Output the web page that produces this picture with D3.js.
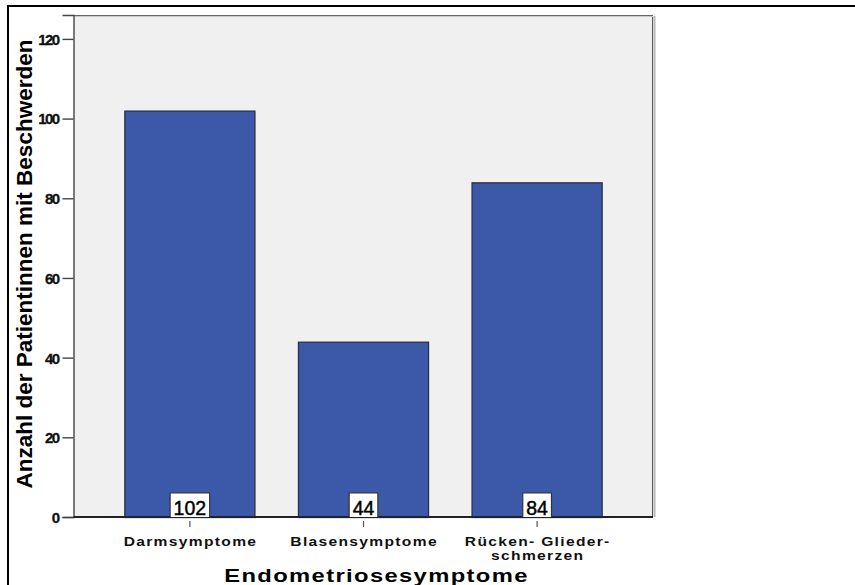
<!DOCTYPE html>
<html>
<head>
<meta charset="utf-8">
<script src="https://cdn.jsdelivr.net/npm/d3@7"></script>
<style>
  html, body { margin: 0; padding: 0; background: #ffffff; }
  svg { display: block; font-family: "Liberation Sans", Arial, sans-serif; }
</style>
</head>
<body>
<svg id="chart" width="855" height="585"></svg>
<script>
// Symptom categories and patient counts
const categories = ["Darmsymptome", "Blasensymptome", "Rücken- Glieder-\nschmerzen"];
const counts = [102, 44, 84];
const yTicks = [0, 20, 40, 60, 80, 100, 120];
const yTitle = "Anzahl der Patientinnen mit Beschwerden";
const xTitle = "Endometriosesymptome";

const svg = d3.select("#chart");
const FONT = "'Liberation Sans', Arial, sans-serif";

// outer frame
svg.append("line").attr("x1", 7).attr("x2", 855).attr("y1", 6).attr("y2", 6)
  .attr("stroke", "#000").attr("stroke-width", 2);
svg.append("line").attr("x1", 8).attr("x2", 8).attr("y1", 5).attr("y2", 585)
  .attr("stroke", "#000").attr("stroke-width", 2);

const plot = { left: 74, right: 653, top: 15, bottom: 517 };

const x = d3.scaleBand()
  .domain(categories)
  .range([plot.left, plot.right])
  .paddingInner(0.245)
  .paddingOuter(0.29);

const y = d3.scaleLinear()
  .domain([0, 126])
  .range([plot.bottom, plot.top]);

// plot background
svg.append("rect")
  .attr("x", plot.left).attr("y", plot.top)
  .attr("width", plot.right - plot.left).attr("height", plot.bottom - plot.top)
  .attr("fill", "#f0f0f0");
// frame shading on the right
svg.append("line").attr("x1", plot.right + 1.5).attr("x2", plot.right + 1.5)
  .attr("y1", plot.top + 1).attr("y2", plot.bottom)
  .attr("stroke", "#b8b8b8").attr("stroke-width", 2);
svg.append("line").attr("x1", plot.right - 0.5).attr("x2", plot.right - 0.5)
  .attr("y1", plot.top).attr("y2", plot.bottom)
  .attr("stroke", "#555").attr("stroke-width", 1);
svg.append("line").attr("x1", plot.left).attr("x2", plot.right)
  .attr("y1", plot.top + 0.5).attr("y2", plot.top + 0.5)
  .attr("stroke", "#666").attr("stroke-width", 1);
svg.append("line").attr("x1", plot.left - 0.5).attr("x2", plot.right)
  .attr("y1", plot.top + 1.5).attr("y2", plot.top + 1.5)
  .attr("stroke", "#c8c8c8").attr("stroke-width", 1);

// bars
svg.append("g").selectAll("rect")
  .data(categories)
  .join("rect")
  .attr("x", d => x(d) + 0.5)
  .attr("y", (d, i) => y(counts[i]) + 0.5)
  .attr("width", x.bandwidth() - 1)
  .attr("height", (d, i) => y(0) - y(counts[i]))
  .attr("fill", "#3c58a9")
  .attr("stroke", "#2a2f45")
  .attr("stroke-width", 1.3);

// y axis
const yAxis = d3.axisLeft(y).tickValues(yTicks).tickSize(11).tickPadding(4);
const gy = svg.append("g").attr("transform", `translate(${plot.left - 0.5},0)`).call(yAxis);
gy.attr("font-family", FONT).attr("font-size", null);
gy.select(".domain").attr("stroke", "#444").attr("stroke-width", 1.4);
gy.selectAll(".tick line").attr("stroke", "#444").attr("stroke-width", 1.4);
gy.selectAll(".tick text")
  .attr("fill", "#111")
  .attr("stroke", "#111")
  .attr("stroke-width", 0.3)
  .style("font-size", "15px")
  .style("font-weight", "bold")
  .style("letter-spacing", "-1.6px")
  .attr("dy", "0.36em");

// x axis baseline
svg.append("line")
  .attr("x1", plot.left - 0.5).attr("x2", plot.right)
  .attr("y1", y(0)).attr("y2", y(0))
  .attr("stroke", "#222").attr("stroke-width", 2);

// x ticks and labels (wide bold lettering)
const gx = svg.append("g");
const sx = 1.2;
categories.forEach((c, i) => {
  const cx = x(c) + x.bandwidth() / 2;
  gx.append("line")
    .attr("x1", cx).attr("x2", cx)
    .attr("y1", y(0) + 4).attr("y2", y(0) + 10)
    .attr("stroke", "#555").attr("stroke-width", 1.2);
  const lines = c.split("\n");
  const t = gx.append("text")
    .attr("transform", `translate(${cx + 0.6},0) scale(${sx},1)`)
    .attr("text-anchor", "middle")
    .attr("font-size", 13)
    .attr("font-weight", "bold")
    .attr("fill", "#111")
    .style("letter-spacing", "1.1px");
  lines.forEach((ln, j) => {
    t.append("tspan")
      .attr("x", 0)
      .attr("y", y(0) + 29 + j * 14.5)
      .text(ln);
  });
});

// value labels in boxes at the base of each bar
const labels = svg.append("g");
categories.forEach((c, i) => {
  const cx = x(c) + x.bandwidth() / 2;
  const g = labels.append("g");
  const t = g.append("text")
    .attr("x", cx)
    .attr("y", y(0) - 2)
    .attr("text-anchor", "middle")
    .attr("font-size", 19.5)
    .attr("fill", "#000")
    .attr("stroke", "#000")
    .attr("stroke-width", 0.45)
    .text(counts[i]);
  const w = t.node().getComputedTextLength() + 7;
  g.insert("path", "text")
    .attr("d", `M${cx - w / 2},${y(0)} V${y(0) - 24} H${cx + w / 2} V${y(0)}`)
    .attr("fill", "#ffffff")
    .attr("stroke", "#333")
    .attr("stroke-width", 1.2);
});

// axis titles
svg.append("text")
  .attr("transform", `translate(31.5,${(plot.top + plot.bottom) / 2 - 2}) rotate(-90)`)
  .attr("text-anchor", "middle")
  .attr("font-size", 22.5)
  .attr("font-weight", "bold")
  .attr("fill", "#000")
  .text(yTitle);

svg.append("text")
  .attr("transform", "translate(376.5,581.5) scale(1.25,1)")
  .attr("text-anchor", "middle")
  .attr("font-size", 19)
  .attr("font-weight", "bold")
  .attr("fill", "#000")
  .style("letter-spacing", "1.1px")
  .text(xTitle);
</script>
</body>
</html>
